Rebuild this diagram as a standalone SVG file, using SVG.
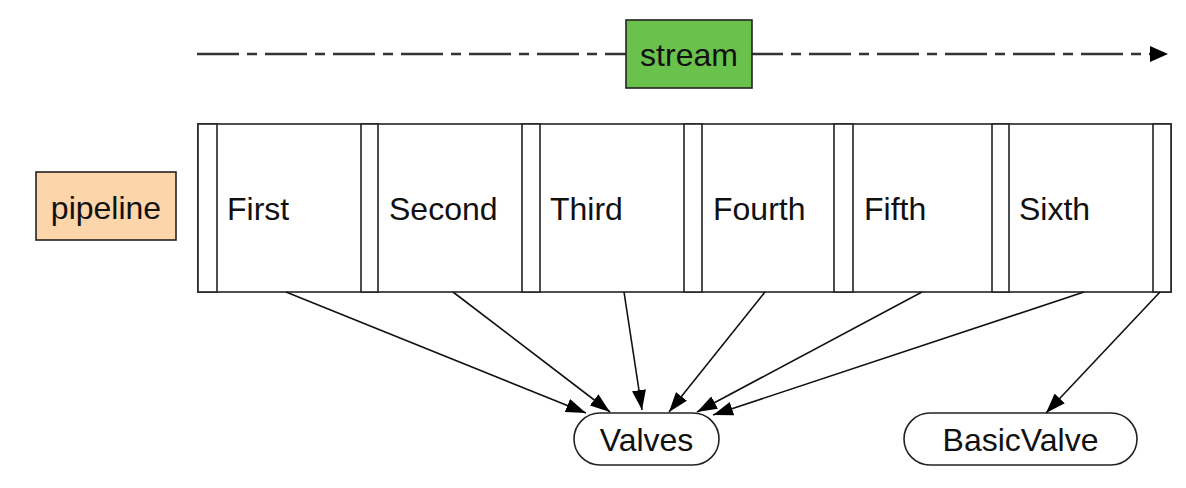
<svg xmlns="http://www.w3.org/2000/svg" width="1186" height="488" viewBox="0 0 1186 488">
<defs>
<style>
.t{font-family:"Liberation Sans",Arial,Helvetica,sans-serif;font-size:32px;fill:#111;}
.box{stroke:#222;stroke-width:1.6;}
.cell{fill:#fff;stroke:#222;stroke-width:1.6;}
.edge{stroke:#111;stroke-width:1.6;fill:none;marker-end:url(#ah);}
</style>
<marker id="ah" markerUnits="userSpaceOnUse" markerWidth="22" markerHeight="14" refX="20" refY="7" orient="auto">
<path d="M0,0 L20,7 L0,14 Z" fill="#000"/>
</marker>
</defs>
<rect width="1186" height="488" fill="#fff"/>
<g id="flow">
<line x1="197" y1="54" x2="1150" y2="54" stroke="#333" stroke-width="2.4" stroke-dasharray="42 8 10 8"/>
<path d="M1150,46 L1168,54 L1150,62 Z" fill="#000"/>
</g>
<g id="stream">
<rect class="box" x="626" y="20" width="126" height="68" fill="#6ac24c"/>
<text class="t" x="689" y="66" text-anchor="middle" font-size="33">stream</text>
</g>
<g id="pipeline">
<rect class="box" x="36" y="172" width="140" height="68" fill="#fdd5ab"/>
<text class="t" x="106" y="219" text-anchor="middle" font-size="33">pipeline</text>
</g>
<g id="chain">
<rect class="cell" x="198" y="124" width="973" height="168"/>
<rect class="cell" x="198" y="124" width="19" height="168"/>
<rect class="cell" x="361" y="124" width="17" height="168"/>
<rect class="cell" x="522" y="124" width="18" height="168"/>
<rect class="cell" x="684" y="124" width="18" height="168"/>
<rect class="cell" x="834" y="124" width="19" height="168"/>
<rect class="cell" x="992" y="124" width="17" height="168"/>
<rect class="cell" x="1153" y="124" width="18" height="168"/>
</g>
<g id="first"><text class="t" x="227" y="220">First</text></g>
<g id="second"><text class="t" x="389" y="220">Second</text></g>
<g id="third"><text class="t" x="550" y="220">Third</text></g>
<g id="fourth"><text class="t" x="713" y="220">Fourth</text></g>
<g id="fifth"><text class="t" x="864" y="220">Fifth</text></g>
<g id="sixth"><text class="t" x="1019" y="220">Sixth</text></g>
<g id="valves">
<rect class="box" x="574" y="413" width="145" height="52" rx="26" fill="#fff"/>
<text class="t" x="646.5" y="451" text-anchor="middle">Valves</text>
</g>
<g id="basicvalve">
<rect class="box" x="904" y="413" width="233" height="52" rx="26" fill="#fff"/>
<text class="t" x="1020.5" y="451" text-anchor="middle">BasicValve</text>
</g>
<g id="connectors">
<line class="edge" x1="286" y1="292" x2="586" y2="413"/>
<line class="edge" x1="453" y1="292" x2="610" y2="412"/>
<line class="edge" x1="624" y1="292" x2="642" y2="410"/>
<line class="edge" x1="765" y1="292" x2="669" y2="412"/>
<line class="edge" x1="922" y1="292" x2="697" y2="412"/>
<line class="edge" x1="1084" y1="292" x2="713" y2="415"/>
<line class="edge" x1="1160" y1="292" x2="1046" y2="413"/>
</g>
</svg>
